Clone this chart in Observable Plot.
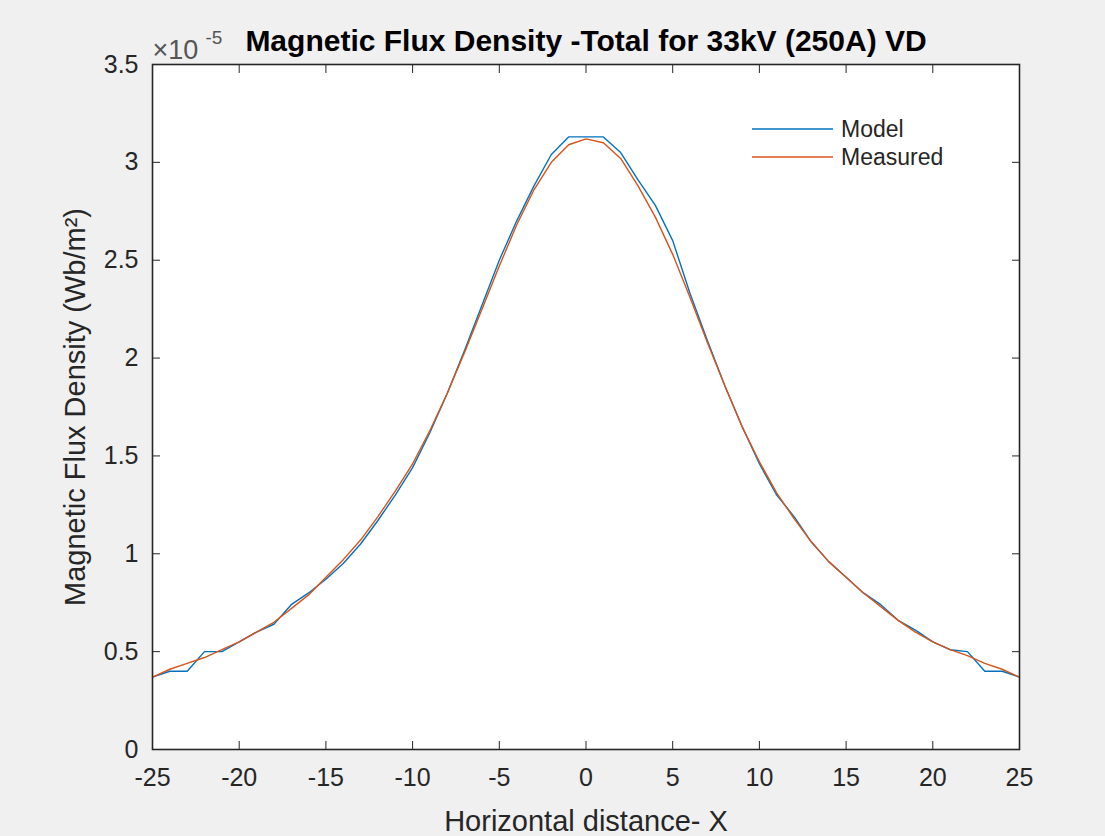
<!DOCTYPE html>
<html>
<head>
<meta charset="utf-8">
<script src="https://cdn.jsdelivr.net/npm/d3@7"></script>
<script src="https://cdn.jsdelivr.net/npm/@observablehq/plot@0.6"></script>
<style>
  html, body { margin: 0; padding: 0; background: #f0f0f0; }
  #chart { width: 1105px; height: 836px; }
  svg { display: block; }
</style>
</head>
<body>
<div id="chart"></div>
<script>
// Horizontal distance (x) and magnetic flux density (×1e-5 Wb/m²)
const distance = [-25,-24,-23,-22,-21,-20,-19,-18,-17,-16,-15,-14,-13,-12,-11,-10,-9,-8,-7,-6,-5,-4,-3,-2,-1,0,1,2,3,4,5,6,7,8,9,10,11,12,13,14,15,16,17,18,19,20,21,22,23,24,25];
const modelValues = [0.37,0.40,0.40,0.50,0.50,0.55,0.60,0.64,0.74,0.80,0.87,0.95,1.05,1.17,1.30,1.44,1.62,1.82,2.04,2.27,2.50,2.70,2.88,3.04,3.13,3.13,3.13,3.05,2.91,2.78,2.60,2.33,2.09,1.86,1.65,1.46,1.30,1.19,1.06,0.96,0.88,0.80,0.74,0.66,0.61,0.55,0.51,0.50,0.40,0.40,0.37];
const measuredValues = [0.37,0.41,0.44,0.47,0.51,0.55,0.60,0.65,0.72,0.79,0.88,0.97,1.07,1.19,1.32,1.46,1.63,1.82,2.03,2.25,2.47,2.68,2.86,3.00,3.09,3.12,3.10,3.02,2.88,2.72,2.53,2.31,2.08,1.86,1.65,1.47,1.31,1.18,1.06,0.96,0.88,0.80,0.73,0.66,0.60,0.55,0.51,0.48,0.44,0.41,0.37];
const seriesNames = ["Model", "Measured"];
const seriesColors = ["#0072BD", "#D95319"];
const xTicks = [-25,-20,-15,-10,-5,0,5,10,15,20,25];
const yTicks = [0,0.5,1,1.5,2,2.5,3,3.5];
const titleText = "Magnetic Flux Density -Total for 33kV (250A) VD";
const xLabelText = "Horizontal distance- X";
const yLabelText = "Magnetic Flux Density (Wb/m²)";
const exponentBase = "×10";
const exponentPower = "-5";

const rows = [];
distance.forEach((x, i) => rows.push({series: seriesNames[0], x, y: modelValues[i]}));
distance.forEach((x, i) => rows.push({series: seriesNames[1], x, y: measuredValues[i]}));

const font = "'Liberation Sans', Arial, Helvetica, sans-serif";
const ink = "#262626";
const tick = 8;
const noText = () => "";

const chart = Plot.plot({
  width: 1105,
  height: 836,
  marginLeft: 152,
  marginRight: 86,
  marginTop: 64,
  marginBottom: 87,
  style: {fontFamily: font, background: "transparent", overflow: "visible"},
  x: {domain: [-25, 25]},
  y: {domain: [0, 3.5]},
  color: {domain: seriesNames, range: seriesColors},
  marks: [
    Plot.frame({fill: "white", stroke: "none"}),
    Plot.lineY(rows, {x: "x", y: "y", z: "series", stroke: "series", strokeWidth: 1.4}),
    // inward tick marks on all four sides
    Plot.axisX({anchor: "bottom", ticks: xTicks, tickSize: tick, dy: -tick, tickFormat: noText, stroke: ink, label: null}),
    Plot.axisX({anchor: "top", ticks: xTicks, tickSize: tick, dy: tick, tickFormat: noText, stroke: ink, label: null}),
    Plot.axisY({anchor: "left", ticks: yTicks, tickSize: tick, dx: tick, tickFormat: noText, stroke: ink, label: null}),
    Plot.axisY({anchor: "right", ticks: yTicks, tickSize: tick, dx: -tick, tickFormat: noText, stroke: ink, label: null}),
    // tick labels
    Plot.axisX({anchor: "bottom", ticks: xTicks, tickSize: 0, tickPadding: 19, tickFormat: d => String(d), fontSize: 25, fill: ink, label: null}),
    Plot.axisY({anchor: "left", ticks: yTicks, tickSize: 0, tickPadding: 14, tickFormat: d => String(d), fontSize: 25, fill: ink, label: null}),
    Plot.frame({stroke: ink, strokeWidth: 1.6}),
    Plot.text([titleText], {frameAnchor: "top", dy: -23, text: d => d, fontSize: 30, fontWeight: "bold", fill: "#000", lineAnchor: "middle"}),
    Plot.text([xLabelText], {frameAnchor: "bottom", dy: 72, text: d => d, fontSize: 29, fill: ink, lineAnchor: "middle"}),
    Plot.text([yLabelText], {frameAnchor: "left", dx: -77, text: d => d, fontSize: 29, fill: ink, rotate: -90, textAnchor: "middle", lineAnchor: "middle"}),
    Plot.text([exponentBase], {frameAnchor: "top-left", dy: -6, text: d => d, fontSize: 27, fill: "#555", textAnchor: "start", lineAnchor: "bottom"}),
    Plot.text([exponentPower], {frameAnchor: "top-left", dx: 53, dy: -21, text: d => d, fontSize: 19, fill: "#555", textAnchor: "start", lineAnchor: "bottom"})
  ]
});

document.getElementById("chart").appendChild(chart);

// Legend (no box), drawn in the upper right of the axes
const svg = d3.select(chart);
const legend = svg.append("g").attr("font-family", font).attr("font-size", 23).attr("text-anchor", "start");
seriesNames.forEach((name, i) => {
  const yy = 129 + i * 28;
  legend.append("line").attr("x1", 752).attr("x2", 833).attr("y1", yy).attr("y2", yy)
    .attr("stroke", seriesColors[i]).attr("stroke-width", 1.4);
  legend.append("text").attr("x", 841).attr("y", yy).attr("dy", "0.35em")
    .attr("text-anchor", "start").attr("fill", ink).text(name);
});
</script>
</body>
</html>
